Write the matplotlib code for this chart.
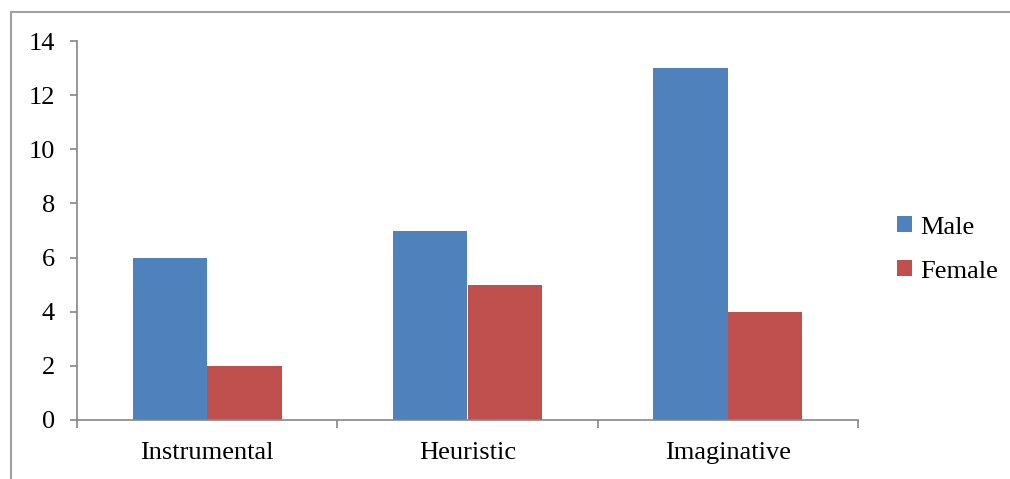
import matplotlib
matplotlib.use("Agg")
import matplotlib.pyplot as plt
import numpy as np
from matplotlib.lines import Line2D

categories = ["Instrumental", "Heuristic", "Imaginative"]
male = [6, 7, 13]
female = [2, 5, 4]
series_names = ["Male", "Female"]
yticks = [0, 2, 4, 6, 8, 10, 12, 14]

plt.rcParams['font.family'] = ['Liberation Serif', 'DejaVu Serif']
W, H = 1010, 479
fig = plt.figure(figsize=(W/100, H/100), dpi=100)
ax = fig.add_axes([77/W, (H-420)/H, (858-77)/W, (420-41)/H])

gray = '#868686'
fs = 19
x = np.arange(len(categories))
bw = 1/3.5
ax.bar(x - bw/2, male, bw, color='#4F81BD', label=series_names[0], linewidth=0)
ax.bar(x + bw/2, female, bw, color='#C0504D', label=series_names[1], linewidth=0)

ax.set_xlim(-0.5, len(categories)-0.5)
ax.set_ylim(0, 14)
ax.set_yticks(yticks)
ax.set_xticks(np.arange(len(categories)+1) - 0.5)
ax.set_xticklabels([])
ax.set_xticks(x, minor=True)
ax.set_xticklabels(categories, minor=True)
ax.tick_params(axis='x', which='major', direction='out', length=5.5, color=gray, width=1.2)
ax.tick_params(axis='x', which='minor', length=0, pad=16, labelsize=fs)
ax.tick_params(axis='y', direction='out', length=5, color=gray, width=1.2, pad=11, labelsize=fs)
for s in ['top', 'right']:
    ax.spines[s].set_visible(False)
for s in ['left', 'bottom']:
    ax.spines[s].set_color(gray)
    ax.spines[s].set_linewidth(1.2)

fig.legend(loc='center left', bbox_to_anchor=(897/W, 1-249.5/H), frameon=False,
           fontsize=fs, handlelength=0.55, handleheight=0.55, handletextpad=0.32,
           labelspacing=0.82, borderpad=0, borderaxespad=0)

# outer frame (partially visible)
fig.add_artist(Line2D([10.5/W, 10.5/W], [0, 1-12/H], color='#A0A0A0', lw=1.5, transform=fig.transFigure))
fig.add_artist(Line2D([10.5/W, 1], [1-12/H, 1-12/H], color='#A0A0A0', lw=1.5, transform=fig.transFigure))

fig.savefig('out.png', dpi=100)
